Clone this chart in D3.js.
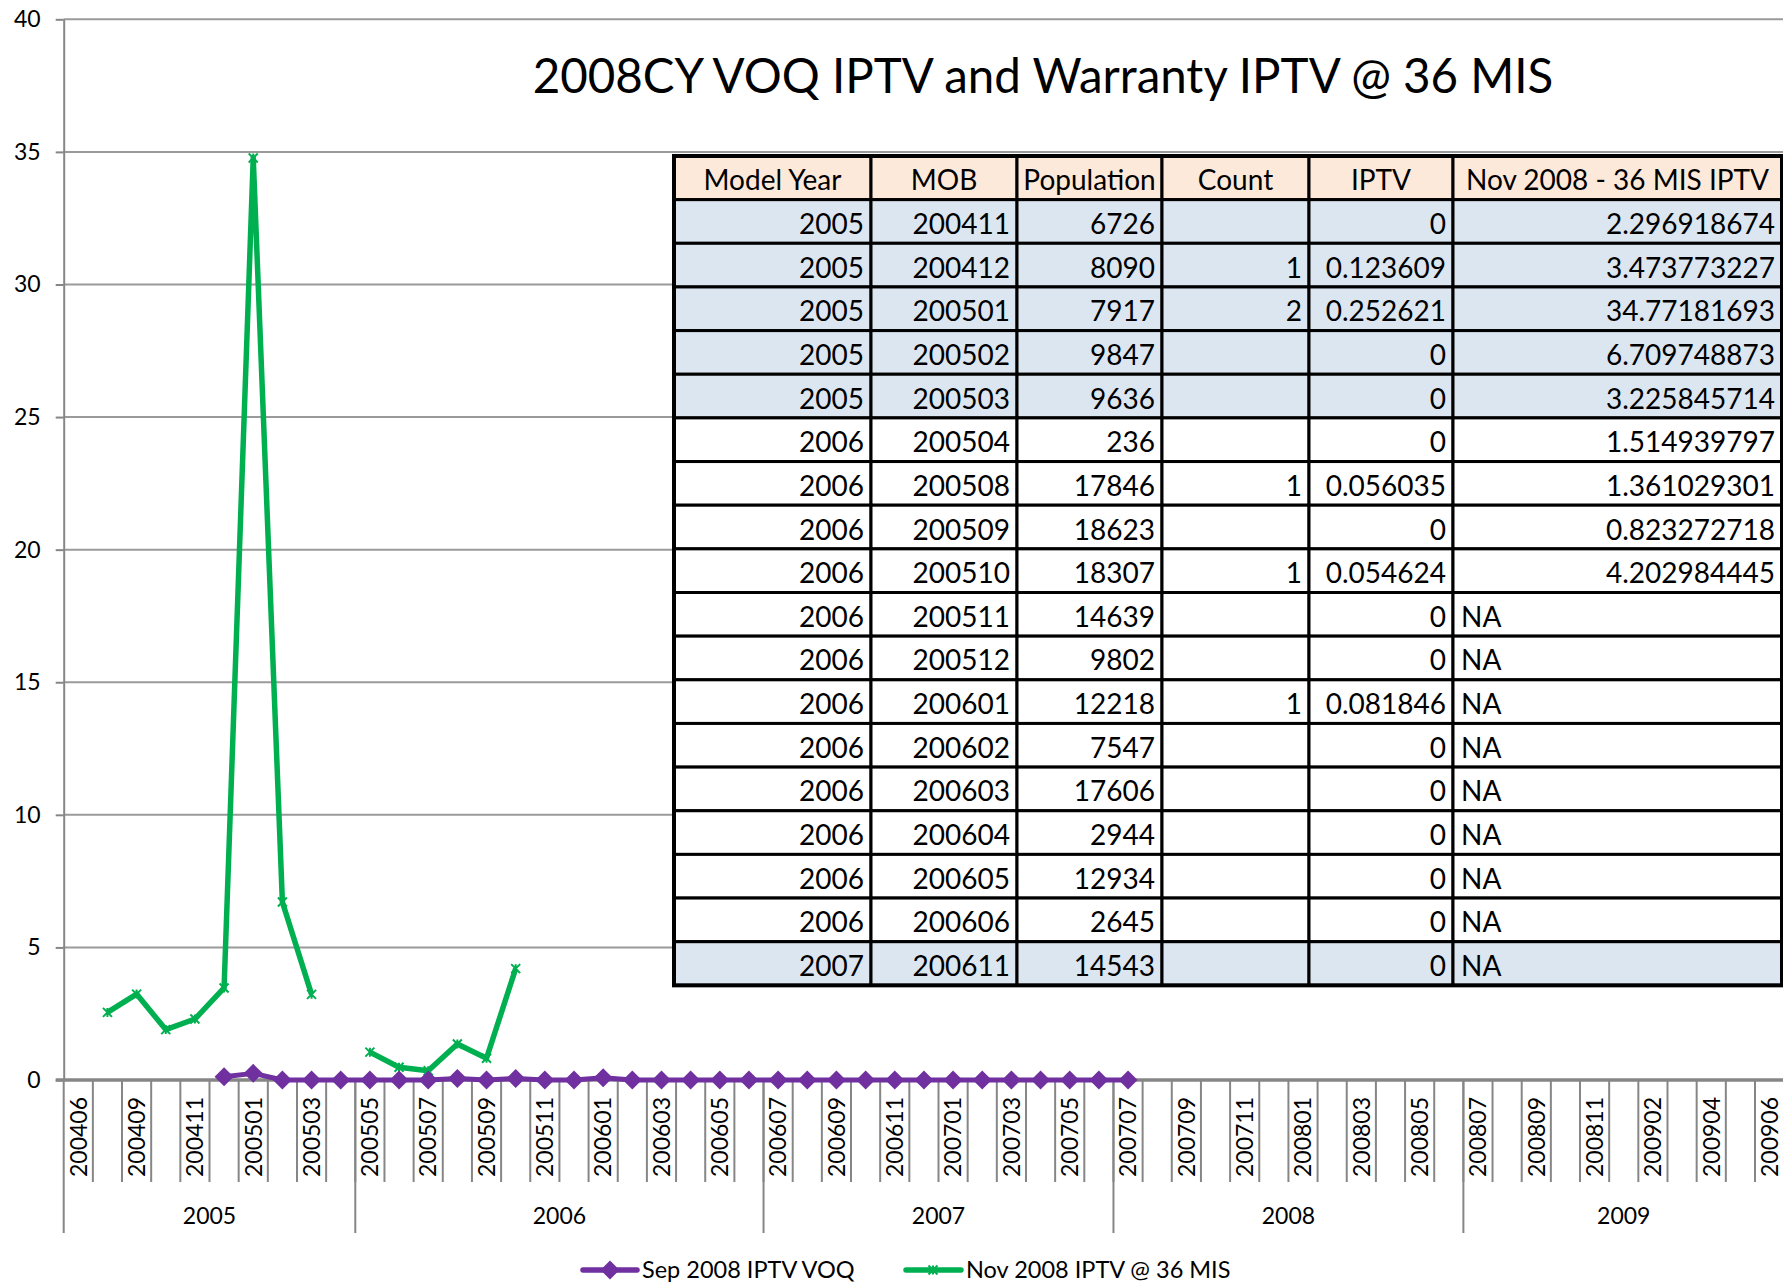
<!DOCTYPE html>
<html>
<head>
<meta charset="utf-8">
<script src="https://cdn.jsdelivr.net/npm/d3@7"></script>
<style>
body { margin: 0; background: #fff; }
svg { display: block; font-family: Lato, "Open Sans", sans-serif; }
</style>
</head>
<body>
<div id="chart"></div>
<script>
// month of build, one slot each on the category axis
var months = ["200406","200408","200409","200410","200411","200412","200501","200502","200503","200504",
    "200505","200506","200507","200508","200509","200510","200511","200512","200601","200602","200603","200604","200605","200606",
    "200607","200608","200609","200610","200611","200612","200701","200702","200703","200704","200705","200706",
    "200707","200708","200709","200710","200711","200712","200801","200802","200803","200804","200805","200806",
    "200807","200808","200809","200810","200811","200812","200902","200903","200904","200905","200906"];

// model year groups under the months
var yearNames = ["2005", "2006", "2007", "2008", "2009"];
var yearSizes = [10, 14, 12, 12, 11];

var sepVoq = [null, null, null, null, null, 0.12, 0.25, 0, 0, 0,
    0, 0, 0, 0.056, 0, 0.055, 0, 0, 0.082, 0, 0, 0, 0, 0,
    0, 0, 0, 0, 0, 0, 0, 0, 0, 0, 0, 0,
    0, null, null, null, null, null, null, null, null, null, null, null,
    null, null, null, null, null, null, null, null, null, null, null];

var novMis = [null, 2.55, 3.24, 1.90, 2.30, 3.47, 34.77, 6.71, 3.23, null,
    1.05, 0.48, 0.35, 1.36, 0.82, 4.20, null, null, null, null, null, null, null, null,
    null, null, null, null, null, null, null, null, null, null, null, null,
    null, null, null, null, null, null, null, null, null, null, null, null,
    null, null, null, null, null, null, null, null, null, null, null];

var yTicks = [0, 5, 10, 15, 20, 25, 30, 35, 40];

// table columns
var tHeader = ["Model Year", "MOB", "Population", "Count", "IPTV", "Nov 2008 - 36 MIS IPTV"];
var tModelYear = [2005, 2005, 2005, 2005, 2005, 2006, 2006, 2006, 2006, 2006, 2006, 2006, 2006, 2006, 2006, 2006, 2006, 2007];
var tMob = [200411, 200412, 200501, 200502, 200503, 200504, 200508, 200509, 200510, 200511, 200512, 200601, 200602, 200603, 200604, 200605, 200606, 200611];
var tPopulation = [6726, 8090, 7917, 9847, 9636, 236, 17846, 18623, 18307, 14639, 9802, 12218, 7547, 17606, 2944, 12934, 2645, 14543];
var tCount = ["", 1, 2, "", "", "", 1, "", 1, "", "", 1, "", "", "", "", "", ""];
var tIptv = ["0", "0.123609", "0.252621", "0", "0", "0", "0.056035", "0", "0.054624", "0", "0", "0.081846", "0", "0", "0", "0", "0", "0"];
var tNov = ["2.296918674", "3.473773227", "34.77181693", "6.709748873", "3.225845714", "1.514939797", "1.361029301", "0.823272718", "4.202984445",
    "NA", "NA", "NA", "NA", "NA", "NA", "NA", "NA", "NA"];

var width = 1783, height = 1285;
var gridColor = "#9a9a9a", axisColor = "#868686";
var purple = "#7030a0", green = "#00b050";

var svg = d3.select("#chart")
    .append("svg")
    .attr("width", width)
    .attr("height", height);

var x = d3.scaleBand()
    .domain(months)
    .range([63.7, 63.7 + months.length * 29.16]);

var y = d3.scaleLinear()
    .domain([0, 40])
    .range([1080, 19.3]);

// horizontal gridlines
svg.append("g")
    .selectAll("line")
    .data(yTicks.slice(1))
    .enter()
    .append("line")
    .attr("x1", x.range()[0])
    .attr("x2", width)
    .attr("y1", function(d){ return y(d); })
    .attr("y2", function(d){ return y(d); })
    .attr("stroke", gridColor)
    .attr("stroke-width", 2);

// y axis
var yAxis = d3.axisLeft(y).tickValues(yTicks).tickSize(8).tickSizeOuter(0);
var yg = svg.append("g")
    .attr("transform", "translate(" + x.range()[0] + ",0)")
    .call(yAxis);
yg.select(".domain").attr("stroke", axisColor).attr("stroke-width", 2);
yg.selectAll(".tick line").attr("stroke", axisColor).attr("stroke-width", 2);
yg.selectAll(".tick text")
    .attr("x", -23)
    .attr("fill", "#000")
    .style("font-size", "23px")
    .style("font-family", "Lato, sans-serif");

// category axis: slot lines, month labels, year groups
var xAxisG = svg.append("g");
xAxisG.selectAll("line.slot")
    .data(months.slice(1))
    .enter()
    .append("line")
    .attr("class", "slot")
    .attr("x1", function(d){ return x(d); })
    .attr("x2", function(d){ return x(d); })
    .attr("y1", y(0))
    .attr("y2", 1182)
    .attr("stroke", axisColor)
    .attr("stroke-width", 2);

xAxisG.selectAll("text.month")
    .data(months.filter(function(d, i){ return i % 2 === 0; }))
    .enter()
    .append("text")
    .attr("class", "month")
    .attr("transform", function(d){
        return "translate(" + (x(d) + x.bandwidth() / 2) + ",1097) rotate(-90)";
    })
    .attr("text-anchor", "end")
    .attr("dy", "0.36em")
    .style("font-size", "23px")
    .text(function(d){ return d; });

var groupStart = [];
var acc = 0;
yearSizes.forEach(function(n){ groupStart.push(acc); acc += n; });

xAxisG.selectAll("line.group")
    .data(groupStart)
    .enter()
    .append("line")
    .attr("class", "group")
    .attr("x1", function(d){ return x(months[d]); })
    .attr("x2", function(d){ return x(months[d]); })
    .attr("y1", y(0))
    .attr("y2", 1233)
    .attr("stroke", axisColor)
    .attr("stroke-width", 2);

xAxisG.selectAll("text.year")
    .data(yearNames)
    .enter()
    .append("text")
    .attr("class", "year")
    .attr("x", function(d, i){
        var a = x(months[groupStart[i]]);
        var b = x(months[groupStart[i] + yearSizes[i] - 1]) + x.bandwidth();
        return (a + b) / 2;
    })
    .attr("y", 1216)
    .attr("dy", "0.36em")
    .attr("text-anchor", "middle")
    .style("font-size", "23px")
    .text(function(d){ return d; });

// zero axis line
svg.append("line")
    .attr("x1", x.range()[0] - 8)
    .attr("x2", width)
    .attr("y1", y(0))
    .attr("y2", y(0))
    .attr("stroke", axisColor)
    .attr("stroke-width", 3.5);

// data table sits over the plot
var colEdges = [674, 871, 1017, 1162, 1309, 1453, 1782];
var tableTop = 156, rowH = 43.65;
var rowFills = ["#dce6f1", "#dce6f1", "#dce6f1", "#dce6f1", "#dce6f1",
    "#fff", "#fff", "#fff", "#fff", "#fff", "#fff", "#fff", "#fff", "#fff", "#fff", "#fff", "#fff", "#dce6f1"];

var table = svg.append("g").attr("class", "table");
var rows = [tHeader];
for (var r = 0; r < tMob.length; r++) {
    rows.push([tModelYear[r], tMob[r], tPopulation[r], tCount[r], tIptv[r], tNov[r]]);
}

rows.forEach(function(row, ri){
    var top = tableTop + ri * rowH;
    var fill = ri === 0 ? "#fde9d9" : rowFills[ri - 1];
    row.forEach(function(val, ci){
        var x0 = colEdges[ci], x1 = colEdges[ci + 1];
        table.append("rect")
            .attr("x", x0)
            .attr("y", top)
            .attr("width", x1 - x0)
            .attr("height", rowH)
            .attr("fill", fill)
            .attr("stroke", "#000")
            .attr("stroke-width", 3);
        var txt = table.append("text")
            .attr("y", top + rowH / 2 + 12.5)
            .style("font-size", "28px")
            .text(val);
        if (ri === 0) {
            txt.attr("x", (x0 + x1) / 2).attr("text-anchor", "middle");
        } else if (val === "NA") {
            txt.attr("x", x0 + 8).attr("text-anchor", "start");
        } else {
            txt.attr("x", x1 - 7).attr("text-anchor", "end");
        }
    });
});
table.append("rect")
    .attr("x", colEdges[0])
    .attr("y", tableTop)
    .attr("width", colEdges[colEdges.length - 1] - colEdges[0])
    .attr("height", rows.length * rowH)
    .attr("fill", "none")
    .attr("stroke", "#000")
    .attr("stroke-width", 4);

// title
var title = svg.append("text")
    .attr("x", 1043)
    .attr("y", 93)
    .attr("text-anchor", "middle")
    .style("font-size", "60px")
    .text("2008CY VOQ IPTV and Warranty IPTV @ 36 MIS");
var tw = title.node().getComputedTextLength();
title.style("font-size", (60 * 1021 / tw) + "px");

// series
var cx = function(i){ return x(months[i]) + x.bandwidth() / 2; };

var line = d3.line()
    .defined(function(d){ return d != null; })
    .x(function(d, i){ return cx(i); })
    .y(function(d){ return y(d); });

svg.append("path")
    .attr("d", line(novMis))
    .attr("fill", "none")
    .attr("stroke", green)
    .attr("stroke-width", 5.5)
    .attr("stroke-linejoin", "round");

function starPath(px, py, s) {
    return "M" + (px - s) + "," + (py - s) + "L" + (px + s) + "," + (py + s) +
        "M" + (px - s) + "," + (py + s) + "L" + (px + s) + "," + (py - s) +
        "M" + px + "," + (py - s) + "L" + px + "," + (py + s);
}

svg.append("g")
    .selectAll("path")
    .data(novMis.map(function(v, i){ return {v: v, i: i}; }).filter(function(d){ return d.v != null; }))
    .enter()
    .append("path")
    .attr("d", function(d){ return starPath(cx(d.i), y(d.v), 4.5); })
    .attr("stroke", green)
    .attr("stroke-width", 2)
    .attr("fill", "none");

svg.append("path")
    .attr("d", line(sepVoq))
    .attr("fill", "none")
    .attr("stroke", purple)
    .attr("stroke-width", 5)
    .attr("stroke-linejoin", "round");

function diamondPath(px, py, s) {
    return "M" + px + "," + (py - s) + "L" + (px + s) + "," + py + "L" + px + "," + (py + s) + "L" + (px - s) + "," + py + "Z";
}

svg.append("g")
    .selectAll("path")
    .data(sepVoq.map(function(v, i){ return {v: v, i: i}; }).filter(function(d){ return d.v != null; }))
    .enter()
    .append("path")
    .attr("d", function(d){ return diamondPath(cx(d.i), y(d.v), 9.5); })
    .attr("fill", purple);

// legend
var legend = svg.append("g");
var ly = 1270;
legend.append("line")
    .attr("x1", 583).attr("x2", 637).attr("y1", ly).attr("y2", ly)
    .attr("stroke", purple).attr("stroke-width", 5.5)
    .attr("stroke-linecap", "round");
legend.append("path")
    .attr("d", diamondPath(610, ly, 9.5))
    .attr("fill", purple);
legend.append("text")
    .attr("x", 642).attr("y", ly).attr("dy", "0.36em")
    .style("font-size", "23.5px")
    .text("Sep 2008 IPTV VOQ");
legend.append("line")
    .attr("x1", 906).attr("x2", 961).attr("y1", ly).attr("y2", ly)
    .attr("stroke", green).attr("stroke-width", 5.5)
    .attr("stroke-linecap", "round");
legend.append("path")
    .attr("d", starPath(933, ly, 4.5))
    .attr("stroke", green).attr("stroke-width", 2);
legend.append("text")
    .attr("x", 966).attr("y", ly).attr("dy", "0.36em")
    .style("font-size", "23.5px")
    .text("Nov 2008 IPTV @ 36 MIS");
</script>
</body>
</html>
